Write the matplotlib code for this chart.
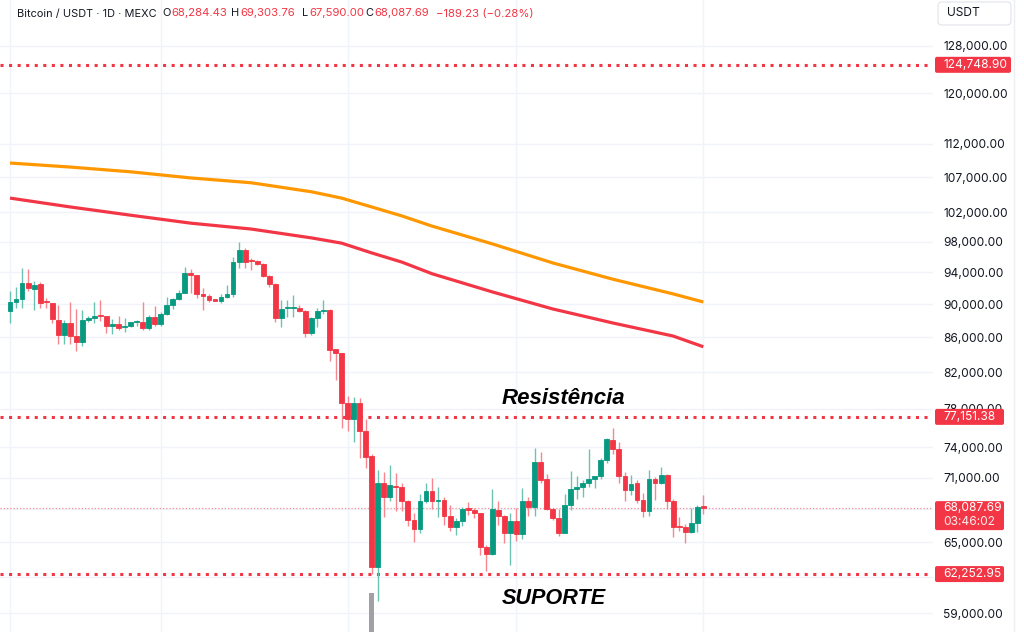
import matplotlib
matplotlib.use("Agg")
import matplotlib.pyplot as plt
import numpy as np
from matplotlib.patches import FancyBboxPatch
from matplotlib.transforms import IdentityTransform
from matplotlib.lines import Line2D
from matplotlib.ticker import NullLocator, NullFormatter

plt.rcParams['font.family'] = ['Inter', 'DejaVu Sans']

# ---------------- data ----------------
opens = [89150, 90290, 90580, 92590, 91860, 92460, 90410, 90090, 88060, 86270,
         87740, 86160, 85420, 88060, 88260, 88660, 88540, 87340, 87580, 87220,
         87300, 87780, 87860, 87140, 88380, 87540, 88780, 89880, 90580, 91410,
         93830, 93640, 91280, 90990, 90580, 90410, 90910, 91210, 95280, 96890,
         95620, 95490, 95020, 93550, 92500, 88300, 89520, 89560, 89550, 89150,
         86550, 88260, 89090, 89270, 84610, 84220, 78660, 76890, 78660, 75710,
         73140, 62880, 70520, 69180, 70200, 70080, 68780, 67020, 66170, 68780,
         69750, 68780, 68870, 67410, 66410, 66950, 68100, 67940, 67630, 64620,
         63980, 67940, 67410, 65810, 66930, 65720, 68780, 68240, 72570, 70850,
         68060, 67230, 65870, 68390, 69890, 70100, 70460, 70880, 71140, 72770,
         74800, 73810, 71170, 69820, 70460, 68870, 67850, 70850, 70460, 71260,
         68780, 66470, 66340, 65960, 66770, 68284.43]
highs = [91620, 92150, 94500, 94370, 92880, 92710, 90700, 90160, 89880, 88060,
         90290, 89390, 89270, 88540, 90290, 90500, 88600, 88150, 88540, 88330,
         87860, 88020, 90290, 88660, 89790, 89060, 90910, 90700, 91740, 94710,
         94370, 93700, 92030, 91210, 90620, 91210, 92370, 96010, 97920, 97110,
         95800, 95580, 95150, 93640, 92590, 90500, 90500, 91120, 89880, 89270,
         88460, 89470, 90500, 89350, 84610, 84220, 79380, 79300, 79130, 76890,
         73340, 71750, 71590, 72240, 71430, 70460, 68870, 67630, 69440, 70520,
         70950, 70070, 69180, 68400, 67180, 68240, 68710, 68100, 67700, 64770,
         69890, 68780, 67450, 67690, 68100, 69980, 69120, 73970, 73490, 71390,
         68100, 68060, 69420, 71700, 71140, 70780, 73820, 71210, 72970, 74960,
         75960, 74580, 71590, 71260, 70780, 69510, 71750, 71070, 72050, 71360,
         69010, 67270, 66650, 68100, 68450, 69303.76]
lows = [87660, 89550, 89470, 91620, 89270, 89470, 89550, 87660, 85190, 85220,
        85190, 84450, 85020, 87860, 87660, 87940, 86480, 86390, 86870, 86590,
        87260, 87380, 86870, 86870, 87380, 87380, 88660, 89390, 90500, 91330,
        91330, 90700, 89270, 90290, 90370, 90090, 90700, 90910, 94500, 94500,
        94280, 94930, 93420, 92150, 87860, 87260, 88460, 88460, 89060, 86080,
        86270, 87260, 88750, 83300, 81130, 75950, 75710, 74580, 72900, 71920,
        62250, 60030, 67320, 68810, 67870, 67870, 66470, 65060, 65870, 68590,
        68010, 67320, 66560, 66050, 65660, 66470, 67480, 67180, 63890, 62510,
        63900, 66560, 64920, 63020, 65120, 65280, 67380, 67380, 70520, 67940,
        67020, 65600, 65810, 67940, 68940, 69180, 70070, 70030, 70880, 72440,
        73340, 70460, 68760, 69390, 68560, 67320, 67430, 68870, 70390, 68010,
        65510, 65990, 64970, 65810, 65960, 67590.00]
closes = [90290, 90580, 92590, 91950, 92370, 90160, 90210, 88140, 86270, 87740,
          86160, 85420, 88060, 88330, 88540, 88540, 87380, 87580, 87060, 87380,
          87780, 87900, 87060, 88380, 87540, 88780, 89880, 90580, 91410, 93830,
          93700, 91240, 90990, 90500, 90410, 90910, 91210, 95280, 96890, 95360,
          95450, 95020, 93550, 92500, 88300, 89330, 89640, 89640, 89150, 86550,
          88260, 89150, 89230, 84530, 84220, 78660, 76890, 78660, 75710, 73070,
          62880, 70520, 69180, 70270, 70080, 68780, 67020, 66170, 68780, 69720,
          68780, 68870, 67430, 66410, 66950, 68010, 67940, 67630, 64620, 63980,
          68010, 67410, 65810, 66930, 65720, 68780, 68240, 72570, 70780, 68080,
          67250, 65870, 68390, 69890, 70070, 70460, 70880, 71140, 72770, 74820,
          73810, 71210, 69820, 70390, 68850, 67850, 70850, 70460, 71260, 68780,
          66350, 66340, 65960, 66770, 68220, 68087.69]

# moving averages (read at selected candle indices)
ma_idx = [0, 10, 20, 30, 40, 50, 55, 60, 65, 70, 80, 90, 100, 110, 115]
ma_orange = [109100, 108500, 107800, 106900, 106200, 104900, 104000, 102750,
             101500, 100100, 97700, 95200, 93100, 91250, 90250]
ma_red = [104000, 102750, 101600, 100500, 99700, 98500, 97800, 96500,
          95300, 93800, 91500, 89400, 87700, 86150, 84900]

# horizontal levels
level_top = 124748.90
level_res = 77151.38
level_sup = 62252.95
last_price = 68087.69
countdown = "03:46:02"

# volume overlay (only the spike is visible)
vol_idx = [60]
vol_vals = [6.2]

# price-axis ticks
tick_vals = [128000, 120000, 112000, 107000, 102000, 98000, 94000, 90000,
             86000, 82000, 78000, 74000, 71000, 68000, 65000, 62000, 59000]
tick_show = [True] * 13 + [False, True, False, True]

# month boundaries (vertical grid) at candle indices
vgrid_idx = [0, 25, 56, 84, 115]

# header
symbol_text = "Bitcoin / USDT · 1D · MEXC"
ohlc_labels = ["O", "H", "L", "C"]
ohlc_texts = ["68,284.43", "69,303.76", "67,590.00", "68,087.69"]
change_text = "\u2212189.23 (\u22120.28%)"

# ---------------- style ----------------
W, H = 1024, 632
RED = "#F23645"
GREEN = "#089981"
RED_WICK = "#f7868f"
GREEN_WICK = "#6bc2b3"
ORANGE = "#FF9800"
TXT = "#131722"
GRID = "#f0f3fa"
PANE_R = 933
FS = 8.6
HFS = 8.2

fig = plt.figure(figsize=(W / 100, H / 100), dpi=100)
fig.patch.set_facecolor("white")
ax = fig.add_axes([0, 0, PANE_R / W, 1])
ax.set_facecolor("white")
ax.set_yscale("log")
ax.set_ylim(57520, 136290)
ax.set_xlim(-1.66, 153.1)
for s in ax.spines.values():
    s.set_visible(False)

# grid + price scale
ax.set_yticks(tick_vals, labels=[f"{v:,.2f}" if sh else "" for v, sh in zip(tick_vals, tick_show)])
ax.yaxis.set_minor_locator(NullLocator())
ax.yaxis.set_minor_formatter(NullFormatter())
ax.yaxis.tick_right()
ax.tick_params(axis="y", length=0, pad=7.2, labelsize=FS, labelcolor=TXT)
ax.set_xticks(vgrid_idx)
ax.tick_params(axis="x", length=0, labelbottom=False)
ax.grid(True, color=GRID, lw=1, zorder=0)
ax.set_axisbelow(True)

# moving averages
ax.plot(ma_idx, ma_orange, color=ORANGE, lw=2.3, solid_capstyle="butt",
        solid_joinstyle="round", zorder=2)
ax.plot(ma_idx, ma_red, color=RED, lw=2.3, solid_capstyle="butt",
        solid_joinstyle="round", zorder=2)

# dotted levels
for lv in (level_top, level_res, level_sup):
    ax.axhline(lv, color=RED, lw=2.2, linestyle=(0, (1, 1.8)), dash_capstyle="butt", zorder=2)
ax.axhline(last_price, color=RED, alpha=0.55, lw=0.9, linestyle=(0, (1, 1.6)), zorder=2)

# candles
o = np.array(opens, float)
h = np.array(highs, float)
l = np.array(lows, float)
c = np.array(closes, float)
x = np.arange(len(o))
up = c >= o
body_col = np.where(up, GREEN, RED)
wick_col = np.where(up, GREEN_WICK, RED_WICK)
ax.vlines(x, l, h, colors=wick_col, lw=1.0, zorder=3)
ax.bar(x, np.abs(c - o), bottom=np.minimum(o, c), width=0.8, color=body_col,
       edgecolor=body_col, lw=0.6, zorder=4)

# volume spike (separate overlay axes sharing the time axis)
vax = fig.add_axes(ax.get_position(), sharex=ax, label="volume")
vax.patch.set_visible(False)
vax.set_ylim(0, 100)
vax.axis("off")
vax.bar(vol_idx, vol_vals, width=0.8, color="#a0a0a5", lw=0)

# annotations
fig.text(502 / W, 1 - 404 / H, "Resistência", fontsize=16, fontweight="bold",
         fontstyle="italic", family="Liberation Sans", color="black", va="baseline")
fig.text(502 / W, 1 - 604 / H, "SUPORTE", fontsize=15.6, fontweight="bold",
         fontstyle="italic", family="Liberation Sans", color="black", va="baseline")

# header
hy = 1 - 13.5 / H
fig.text(17 / W, hy, symbol_text, fontsize=7.9, color=TXT, va="center")
val_x = [171, 240, 309, 374]
for vx, lb, vt in zip(val_x, ohlc_labels, ohlc_texts):
    fig.text((vx - 0.5) / W, hy, lb, fontsize=7.9, color=TXT, va="center", ha="right")
    fig.text(vx / W, hy, vt, fontsize=HFS, color=RED, va="center")
fig.text(436 / W, hy, change_text, fontsize=HFS, color=RED, va="center")

# USDT box
fig.add_artist(FancyBboxPatch((938, H - 25), 73, 23, boxstyle="round,pad=0,rounding_size=4",
                              transform=IdentityTransform(), fc="white", ec="#e0e3eb", lw=0.8))
fig.text(947 / W, 1 - 13.3 / H, "USDT", fontsize=FS, color=TXT, va="center")
fig.add_artist(Line2D([1014 / W, 1014 / W], [0, 1], transform=fig.transFigure,
                      color="#eceef2", lw=1))

# price labels
def ydisp(p):
    return ax.transData.transform((0, p))[1]

def price_box(p, text, width):
    yd = ydisp(p)
    fig.add_artist(FancyBboxPatch((935, yd - 8), width, 16, boxstyle="round,pad=0,rounding_size=2",
                                  transform=IdentityTransform(), fc=RED, ec="none"))
    fig.text(943 / W, yd / H, text, fontsize=FS, color="white", va="center")

price_box(level_top, f"{level_top:,.2f}", 76)
price_box(level_res, f"{level_res:,.2f}", 69)
price_box(level_sup, f"{level_sup:,.2f}", 69)

yd = ydisp(last_price)
fig.add_artist(FancyBboxPatch((935, yd - 21.7), 69, 29, boxstyle="round,pad=0,rounding_size=2",
                              transform=IdentityTransform(), fc=RED, ec="none"))
fig.text(943 / W, yd / H, f"{last_price:,.2f}", fontsize=FS, color="white", va="center")
fig.text(943 / W, (yd - 14) / H, countdown, fontsize=FS, color="white", va="center", alpha=0.9)

fig.savefig("out.png", dpi=100, facecolor="white")
